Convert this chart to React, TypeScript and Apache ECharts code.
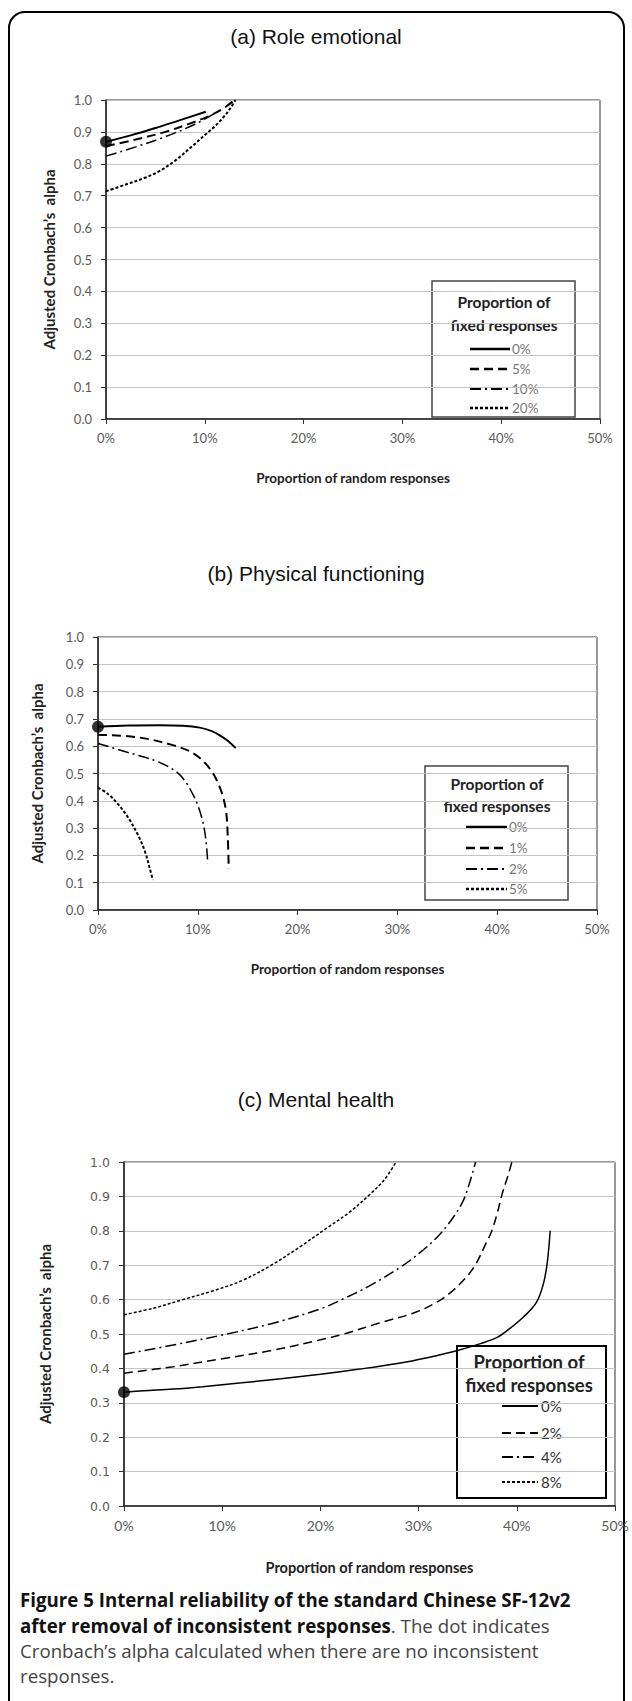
import React, { useEffect, useRef } from "react";
import * as echarts from "echarts";

// ---------- data ----------
const xTickValues = [0, 10, 20, 30, 40, 50];

// (a) Role emotional
const reLabels = ["0%", "5%", "10%", "20%"];
const re0 = [[0, 0.869], [2.5, 0.889], [5, 0.912], [7.5, 0.937], [10.1, 0.963]];
const re5 = [[0, 0.855], [3, 0.876], [6, 0.9], [9, 0.932], [10.8, 0.955], [12, 0.976], [13, 1.0]];
const re10 = [[0, 0.824], [3, 0.853], [6, 0.885], [9, 0.924], [11, 0.958]];
const re20 = [[0, 0.714], [2, 0.735], [4, 0.757], [5.4, 0.777], [7, 0.81], [8.8, 0.857], [10, 0.89], [11.1, 0.92], [12, 0.95], [12.6, 0.975], [13.1, 1.0]];

// (b) Physical functioning
const pfLabels = ["0%", "1%", "2%", "5%"];
const pf0 = [[0, 0.671], [3, 0.676], [6.2, 0.677], [8.5, 0.675], [10.2, 0.668], [11.4, 0.655], [12.2, 0.64], [13, 0.62], [13.8, 0.593]];
const pf1 = [[0, 0.642], [3.9, 0.633], [7.2, 0.607], [9.6, 0.573], [11.2, 0.518], [12.2, 0.45], [12.8, 0.37], [13.0, 0.27], [13.1, 0.15]];
const pf2 = [[0, 0.61], [3.2, 0.575], [6.2, 0.54], [8.2, 0.495], [9.6, 0.417], [10.4, 0.338], [10.8, 0.26], [11.0, 0.17]];
const pf5 = [[0, 0.448], [1, 0.425], [2, 0.388], [3, 0.34], [4, 0.275], [4.7, 0.215], [5.2, 0.15], [5.5, 0.11]];

// (c) Mental health
const mhLabels = ["0%", "2%", "4%", "8%"];
const mh0 = [[0, 0.331], [2, 0.335], [5, 0.34], [8, 0.347], [12, 0.358], [16, 0.37], [20, 0.383], [24, 0.398], [28, 0.415], [31, 0.432], [33.7, 0.45], [36.3, 0.472], [38, 0.49], [39.2, 0.514], [40.7, 0.55], [42, 0.592], [42.7, 0.645], [43.1, 0.707], [43.4, 0.8]];
const mh2 = [[0, 0.386], [5, 0.405], [10, 0.428], [15, 0.452], [20, 0.483], [22.4, 0.5], [26, 0.532], [29.7, 0.563], [32, 0.595], [33.4, 0.624], [35, 0.67], [35.9, 0.707], [36.8, 0.76], [37.4, 0.796], [38, 0.85], [38.5, 0.906], [39.1, 0.96], [39.5, 1.0]];
const mh4 = [[0, 0.441], [5, 0.468], [10, 0.497], [15, 0.53], [20, 0.573], [22.4, 0.603], [25, 0.64], [28.3, 0.697], [30.5, 0.745], [32, 0.785], [33.3, 0.83], [34.5, 0.885], [35.2, 0.94], [35.8, 1.0]];
const mh8 = [[0, 0.556], [3, 0.575], [6, 0.6], [9, 0.625], [12, 0.655], [15, 0.7], [18, 0.755], [20.5, 0.805], [23, 0.855], [25, 0.905], [26.5, 0.948], [27.7, 1.0]];

const panelTitles = ["(a) Role emotional", "(b) Physical functioning", "(c) Mental health"];
const yAxisTitle = "Adjusted Cronbach\u2019s  alpha";
const xAxisTitle = "Proportion of random responses";
const legendTitle = ["Proportion of", "fixed responses"];
const captionLines = [
  [{ t: "Figure 5 Internal reliability of the standard Chinese SF-12v2", b: true }],
  [{ t: "after removal of inconsistent responses", b: true }, { t: ". The dot indicates", b: false }],
  [{ t: "Cronbach\u2019s alpha calculated when there are no inconsistent", b: false }],
  [{ t: "responses.", b: false }],
];

// ---------- styles ----------
const dashStyles = ["solid", [9, 5], [11, 4, 2, 4], [3, 2]];

const panels = [
  { grid: { left: 106, top: 100, width: 494, height: 319 }, title: 38, series: [re0, re5, re10, re20], labels: reLabels,
    legend: { x: 432, y: 281, w: 143, h: 136, tc: 504, t1: 302, t2: 325, items: [349, 369, 389, 408], lx0: 470, lx1: 510, tx: 512, border: "#444", bw: 1.5, tf: 15.5, itf: 13.5 },
    yGap: 50, xGap: 52, lw: [2, 2, 1.5, 2], font: "Lato", lab: 13, nameSize: 13.5, ySize: 15 },
  { grid: { left: 98, top: 637, width: 499, height: 273 }, title: 575, series: [pf0, pf1, pf2, pf5], labels: pfLabels,
    legend: { x: 425, y: 766, w: 143, h: 134, tc: 497, t1: 784, t2: 806, items: [827, 848, 869, 889], lx0: 466, lx1: 507, tx: 509, border: "#444", bw: 1.5, tf: 15.5, itf: 13.5 },
    yGap: 54, xGap: 52, lw: [2, 2, 1.5, 2], font: "Lato", lab: 13, nameSize: 13.5, ySize: 15 },
  { grid: { left: 124, top: 1162, width: 491, height: 344 }, title: 1101, series: [mh0, mh2, mh4, mh8], labels: mhLabels,
    legend: { x: 457, y: 1346, w: 149, h: 152, tc: 529, t1: 1362, t2: 1385, items: [1406, 1433, 1457, 1482], lx0: 502, lx1: 538, tx: 541, border: "#000", bw: 2, tf: 18.5, itf: 15 },
    yGap: 72, xGap: 54, lw: [1.5, 1.5, 1.5, 1.5], font: "Lato", lab: 14, nameSize: 14.5, ySize: 15 },
];

export default function App() {
  const ref = useRef<HTMLDivElement>(null);
  useEffect(() => {
    if (!ref.current) return;
    const chart = echarts.init(ref.current, null, { renderer: "svg" });

    const grids: any[] = [];
    const xAxes: any[] = [];
    const yAxes: any[] = [];
    const series: any[] = [];
    const graphics: any[] = [];
    const titles: any[] = [];

    graphics.push({
      type: "rect", z: 0,
      shape: { x: 9, y: 12, width: 615, height: 1730, r: 16 },
      style: { fill: "none", stroke: "#000", lineWidth: 2 },
    });

    panels.forEach((p, i) => {
      grids.push({ ...p.grid, show: true, borderColor: "#333", borderWidth: 1, backgroundColor: "transparent" });
      titles.push({
        text: panelTitles[i], left: "center", top: p.title - 12, padding: 0,
        textStyle: { fontFamily: "Liberation Sans", fontSize: 21, fontWeight: "normal", color: "#111" },
      });
      const labColor = "#5a5a5a";
      xAxes.push({
        type: "value", gridIndex: i, min: 0, max: 50, interval: 10,
        name: xAxisTitle, nameLocation: "middle", nameGap: p.xGap,
        nameTextStyle: { fontFamily: p.font, fontWeight: "bold", fontSize: p.nameSize, color: "#222" },
        axisLine: { lineStyle: { color: "#222", width: 1.5 } },
        axisTick: { show: true, length: 5, lineStyle: { color: "#333" } },
        axisLabel: { formatter: (v: number) => (xTickValues.includes(v) ? v + "%" : ""), margin: 12, color: labColor, fontFamily: p.font, fontSize: p.lab },
        splitLine: { show: false },
      });
      yAxes.push({
        type: "value", gridIndex: i, min: 0, max: 1, interval: 0.1,
        name: yAxisTitle, nameLocation: "middle", nameGap: p.yGap,
        nameTextStyle: { fontFamily: p.font, fontWeight: "bold", fontSize: p.ySize, color: "#222" },
        axisLine: { lineStyle: { color: "#222", width: 1.5 } },
        axisTick: { show: true, length: 5, lineStyle: { color: "#333" } },
        axisLabel: { formatter: (v: number) => v.toFixed(1), margin: 14, color: labColor,
          fontFamily: i === 2 ? "DejaVu Sans" : p.font, fontSize: i === 2 ? 12.5 : p.lab },
        splitLine: { show: true, lineStyle: { color: "#c4c4c4", width: 1.2 } },
      });
      p.series.forEach((d, k) => {
        series.push({
          type: "line", name: panelTitles[i] + " " + p.labels[k], xAxisIndex: i, yAxisIndex: i,
          data: d, smooth: 0.35, symbol: "none", z: 3,
          lineStyle: { color: "#000", width: p.lw[k], type: dashStyles[k] as any },
        });
      });
      series.push({
        type: "scatter", xAxisIndex: i, yAxisIndex: i, data: [p.series[0][0]],
        symbolSize: 12, itemStyle: { color: "#000" }, z: 5,
      });

      const L = p.legend;
      const children: any[] = [
        { type: "rect", shape: { x: L.x, y: L.y, width: L.w, height: L.h }, style: { fill: "#fff", stroke: L.border, lineWidth: L.bw } },
        { type: "text", x: L.tc, y: L.t1, style: { text: legendTitle[0], align: "center", verticalAlign: "middle", fontFamily: p.font, fontWeight: "bold", fontSize: L.tf, fill: "#222" } },
        { type: "text", x: L.tc, y: L.t2, style: { text: legendTitle[1], align: "center", verticalAlign: "middle", fontFamily: p.font, fontWeight: "bold", fontSize: L.tf, fill: "#222" } },
      ];
      p.labels.forEach((lab, k) => {
        const ds = dashStyles[k];
        children.push({
          type: "line", shape: { x1: L.lx0, y1: L.items[k], x2: L.lx1, y2: L.items[k] },
          style: { stroke: "#000", lineWidth: p.lw[k] + 0.5, lineDash: ds === "solid" ? null : ds },
        });
        children.push({
          type: "text", x: L.tx, y: L.items[k],
          style: { text: lab, align: "left", verticalAlign: "middle", fontFamily: p.font, fontSize: L.itf, fill: i === 2 ? "#333" : "#777" },
        });
      });
      graphics.push({ type: "group", z: 100, children });
    });

    const capY = [1599, 1625, 1650, 1675];
    captionLines.forEach((line, j) => {
      const rich: any = {
        b: { fontFamily: "Open Sans", fontWeight: "bold", fontSize: 18.7, fill: "#111" },
        r: { fontFamily: "Open Sans", fontWeight: "normal", fontSize: 18.7, fill: "#444" },
      };
      const text = line.map((s) => `{${s.b ? "b" : "r"}|${s.t}}`).join("");
      graphics.push({
        type: "text", z: 100, x: 20, y: capY[j],
        style: { text, rich, align: "left", verticalAlign: "middle", fontFamily: "Open Sans", fontSize: 18.7 },
      });
    });

    chart.setOption({
      animation: false,
      backgroundColor: "#fff",
      title: titles,
      grid: grids,
      xAxis: xAxes,
      yAxis: yAxes,
      series,
      graphic: graphics,
    });
    return () => chart.dispose();
  }, []);
  return (
    <div style={{ position: "absolute", left: 0, top: 0, width: 632, height: 1701 }}>
      <div ref={ref} style={{ width: 632, height: 1701 }} />
    </div>
  );
}
